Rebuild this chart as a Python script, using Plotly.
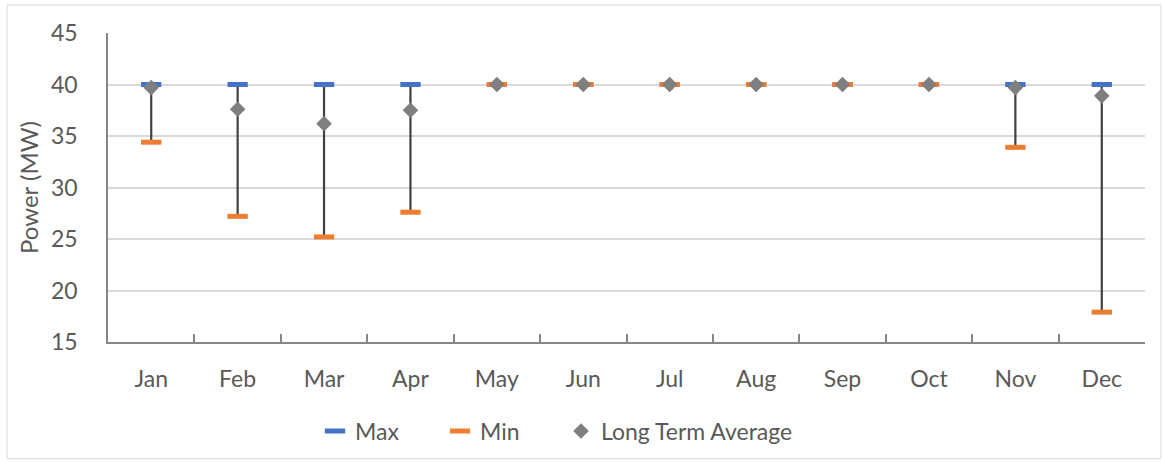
import plotly.graph_objects as go

months = ["Jan", "Feb", "Mar", "Apr", "May", "Jun", "Jul", "Aug", "Sep", "Oct", "Nov", "Dec"]
max_vals = [40, 40, 40, 40, 40, 40, 40, 40, 40, 40, 40, 40]
min_vals = [34.4, 27.2, 25.2, 27.6, 40, 40, 40, 40, 40, 40, 33.9, 17.9]
avg_vals = [39.7, 37.6, 36.2, 37.5, 40, 40, 40, 40, 40, 40, 39.7, 38.9]

W, H = 1163, 463
ml, mr, mt, mb = 108, 18, 33, 120
pw, ph = W - ml - mr, H - mt - mb

def px_x(x):
    return (x - ml) / pw

def px_y(y):
    return (H - mb - y) / ph

font_family = "Lato, 'Open Sans', sans-serif"
txt = "#595959"
fs = 23

fig = go.Figure()

# vertical range lines (max to min)
fig.add_trace(go.Scatter(
    x=months, y=max_vals, mode="markers",
    marker=dict(size=1, opacity=0),
    error_y=dict(type="data", symmetric=False,
                 array=[0] * len(months),
                 arrayminus=[a - b for a, b in zip(max_vals, min_vals)],
                 color="#404040", thickness=2.2, width=0),
    showlegend=False, hoverinfo="skip"))

fig.add_trace(go.Scatter(
    x=months, y=max_vals, mode="markers", name="Max",
    marker=dict(symbol="line-ew", size=14.5, line=dict(width=5, color="#4472C4"), color="#4472C4")))
fig.add_trace(go.Scatter(
    x=months, y=min_vals, mode="markers", name="Min",
    marker=dict(symbol="line-ew", size=14.5, line=dict(width=5, color="#ED7D31"), color="#ED7D31")))
fig.add_trace(go.Scatter(
    x=months, y=avg_vals, mode="markers", name="Long Term Average", legend="legend2",
    marker=dict(symbol="diamond", size=12, color="#7F7F7F")))

fig.update_layout(
    width=W, height=H,
    margin=dict(l=ml, r=mr, t=mt, b=mb),
    paper_bgcolor="white", plot_bgcolor="white",
    font=dict(family=font_family, size=fs, color=txt),
    legend=dict(orientation="h", x=px_x(315), xanchor="left", y=px_y(431), yanchor="middle",
                font=dict(size=fs, color=txt), entrywidth=80, tracegroupgap=0),
    legend2=dict(orientation="h", x=px_x(561), xanchor="left", y=px_y(431), yanchor="middle",
                 font=dict(size=fs, color=txt)),
    shapes=[dict(type="rect", xref="paper", yref="paper",
                 x0=px_x(7), x1=px_x(1161), y0=px_y(460), y1=px_y(5),
                 line=dict(color="#D9D9D9", width=1), fillcolor="rgba(0,0,0,0)", layer="below")],
)
fig.update_xaxes(
    type="category", showgrid=False, showline=True, linecolor="#868686", linewidth=1.5,
    ticks="inside", tickson="boundaries", ticklen=8, tickcolor="#868686", tickwidth=1.5,
    tickfont=dict(size=fs, color=txt), range=[-0.5, 11.5], ticklabelstandoff=16)
fig.update_yaxes(
    range=[15, 45], dtick=5, showgrid=True, gridcolor="#D9D9D9", gridwidth=1.5,
    showline=True, linecolor="#868686", linewidth=1.5, ticks="", zeroline=False,
    tickfont=dict(size=fs, color=txt), ticklabelstandoff=24, automargin=False,
    title=dict(text="Power (MW)", font=dict(size=24, color=txt), standoff=6))

fig.write_html("out.html", config={"displayModeBar": False},
               post_script="document.body.style.margin='0';")
